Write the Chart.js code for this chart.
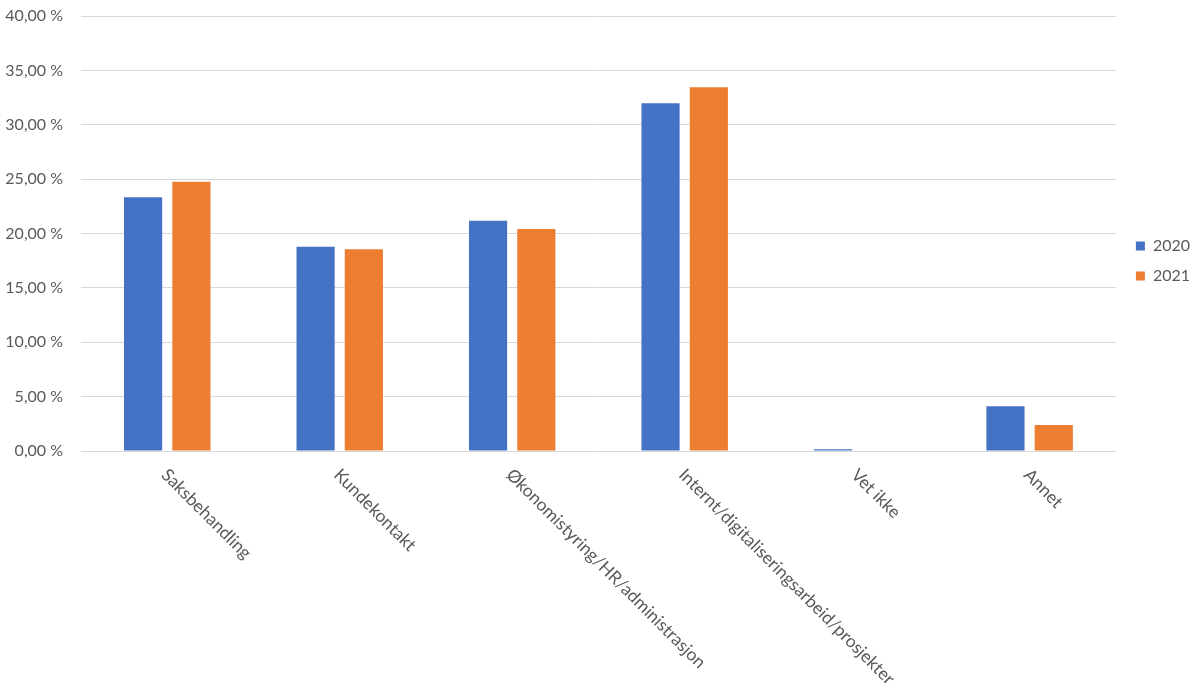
<!DOCTYPE html>
<html>
<head>
<meta charset="utf-8">
<script src="https://cdn.jsdelivr.net/npm/chart.js@4"></script>
<style>
  html, body { margin: 0; padding: 0; background: #fff; }
  #wrap { width: 1200px; height: 691px; position: relative; }
</style>
</head>
<body>
<div id="wrap"><canvas id="barChart"></canvas></div>
<script>
const categories = ['Saksbehandling', 'Kundekontakt', 'Økonomistyring/HR/administrasjon',
  'Internt/digitaliseringsarbeid/prosjekter', 'Vet ikke', 'Annet'];
const values2020 = [23.33, 18.79, 21.18, 31.97, 0.15, 4.11];
const values2021 = [24.77, 18.55, 20.41, 33.44, 0, 2.39];
const yTicks = [0, 5, 10, 15, 20, 25, 30, 35, 40];

const textColor = '#595959';
const fontFamily = 'Lato, "Noto Sans", sans-serif';

// x-etiketter skrått nedover mot høyre, som i Excel
const slantedLabels = {
  id: 'slantedLabels',
  afterDraw(chart) {
    const ctx = chart.ctx;
    const xScale = chart.scales.x;
    const top = chart.chartArea.bottom + 21;
    ctx.save();
    ctx.fillStyle = textColor;
    ctx.font = '17.5px ' + fontFamily;
    ctx.textAlign = 'left';
    ctx.textBaseline = 'middle';
    categories.forEach((label, i) => {
      const x = xScale.getPixelForValue(i) - 3;
      ctx.save();
      ctx.translate(x, top);
      ctx.rotate(Math.PI / 4);
      ctx.fillText(label, 0, 0);
      ctx.restore();
    });
    ctx.restore();
  }
};

const ctx = document.getElementById('barChart').getContext('2d');
const barChart = new Chart(ctx, {
  type: 'bar',
  data: {
    labels: categories,
    datasets: [
      { label: '2020', data: values2020, backgroundColor: '#4472C4' },
      { label: '2021', data: values2021, backgroundColor: '#ED7D31' }
    ]
  },
  options: {
    responsive: true,
    maintainAspectRatio: false,
    animation: false,
    layout: { padding: { top: 16, left: 0, right: 0, bottom: 185 } },
    datasets: {
      bar: { categoryPercentage: 0.56, barPercentage: 0.79 }
    },
    scales: {
      x: {
        grid: { display: false },
        border: { display: false },
        ticks: { display: false },
        afterFit(scale) { scale.height = 55; }
      },
      y: {
        min: 0,
        max: 40,
        afterBuildTicks(scale) { scale.ticks = yTicks.map(v => ({ value: v })); },
        afterFit(scale) {
          scale.width = 81;
          scale.paddingTop = 0;
          scale.paddingBottom = 0;
        },
        grid: { color: '#d9d9d9', lineWidth: 1, drawTicks: false },
        border: { display: false },
        ticks: {
          color: textColor,
          font: { family: fontFamily, size: 16 },
          padding: 18,
          callback: v => v.toFixed(2).replace('.', ',') + ' %'
        }
      },
      gap: {
        position: 'right',
        grid: { display: false },
        border: { display: false },
        ticks: { display: false },
        afterFit(scale) { scale.width = 6; }
      }
    },
    plugins: {
      legend: {
        position: 'right',
        labels: {
          boxWidth: 9,
          boxHeight: 9,
          padding: 14,
          color: textColor,
          font: { family: fontFamily, size: 16 }
        }
      },
      tooltip: { enabled: false }
    }
  },
  plugins: [slantedLabels]
});
</script>
</body>
</html>
